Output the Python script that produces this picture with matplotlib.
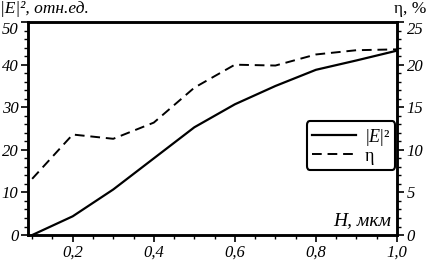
import matplotlib
matplotlib.use('Agg')
import matplotlib.pyplot as plt
from matplotlib.ticker import MultipleLocator, FuncFormatter

# Data
H = [0.1, 0.2, 0.3, 0.4, 0.5, 0.6, 0.7, 0.8, 0.9, 1.0]
E2 = [0.0, 4.4, 10.7, 18.0, 25.3, 30.7, 35.0, 38.8, 41.0, 43.3]
eta = [6.6, 11.8, 11.3, 13.2, 17.3, 20.0, 19.9, 21.2, 21.7, 21.8]

xticks = [0.2, 0.4, 0.6, 0.8, 1.0]
yticks_left = [0, 10, 20, 30, 40, 50]
yticks_right = [0, 5, 10, 15, 20, 25]

plt.rcParams['font.family'] = ['Liberation Serif', 'DejaVu Serif']
plt.rcParams['font.style'] = 'italic'
plt.rcParams['font.size'] = 11
plt.rcParams['mathtext.fontset'] = 'custom'
plt.rcParams['mathtext.rm'] = 'Liberation Serif'
plt.rcParams['mathtext.it'] = 'Liberation Serif:italic'

fig = plt.figure(figsize=(4.26, 2.60), dpi=100)
ax = fig.add_axes([0.066, 0.096, 0.866, 0.819])
ax2 = ax.twinx()

l1, = ax.plot(H, E2, color='black', lw=1.6, label=r'|$\mathit{E}$|²')
l2, = ax2.plot(H, eta, color='black', lw=1.4, ls=(0, (5, 3)), label='η')

ax.set_xlim(0.09, 1.0)
ax.set_ylim(0, 50)
ax2.set_ylim(0, 25)

ax.set_xticks(xticks)
ax.xaxis.set_major_formatter(FuncFormatter(lambda v, p: f'{v:.1f}'.replace('.', ',')))
ax.xaxis.set_minor_locator(MultipleLocator(0.05))
ax.set_yticks(yticks_left)
ax.yaxis.set_minor_locator(MultipleLocator(2))
ax2.set_yticks(yticks_right)
ax2.yaxis.set_minor_locator(MultipleLocator(1))

for a in (ax, ax2):
    a.tick_params(which='major', length=5, width=1.2, direction='out', pad=2, labelsize=12)
    a.tick_params(which='minor', length=3, width=1.0, direction='out')
    for s in a.spines.values():
        s.set_linewidth(1.8)

fig.text(0.0, 0.995, '|E|², отн.ед.', ha='left', va='top', fontsize=12.5)
fig.text(1.0, 0.995, 'η, %', ha='right', va='top', fontsize=12.5, style='normal')
ax.text(0.985, 0.03, 'H, мкм', transform=ax.transAxes, ha='right', va='bottom', fontsize=14)

leg = ax.legend(handles=[l1, l2], loc='center right', bbox_to_anchor=(0.995, 0.42),
                borderaxespad=0.0, frameon=True, fancybox=True, edgecolor='black',
                handlelength=2.4, borderpad=0.3, labelspacing=0.0, handletextpad=0.5,
                fontsize=13)
leg.get_frame().set_linewidth(1.5)
leg.get_frame().set_alpha(1)
for t in leg.get_texts():
    t.set_fontstyle('normal')

fig.canvas.draw()
# top tick labels sit below their ticks, as in the reference
ax.get_yticklabels()[-1].set_va('top')
ax2.get_yticklabels()[-1].set_va('top')

fig.savefig('out.png', dpi=100)
